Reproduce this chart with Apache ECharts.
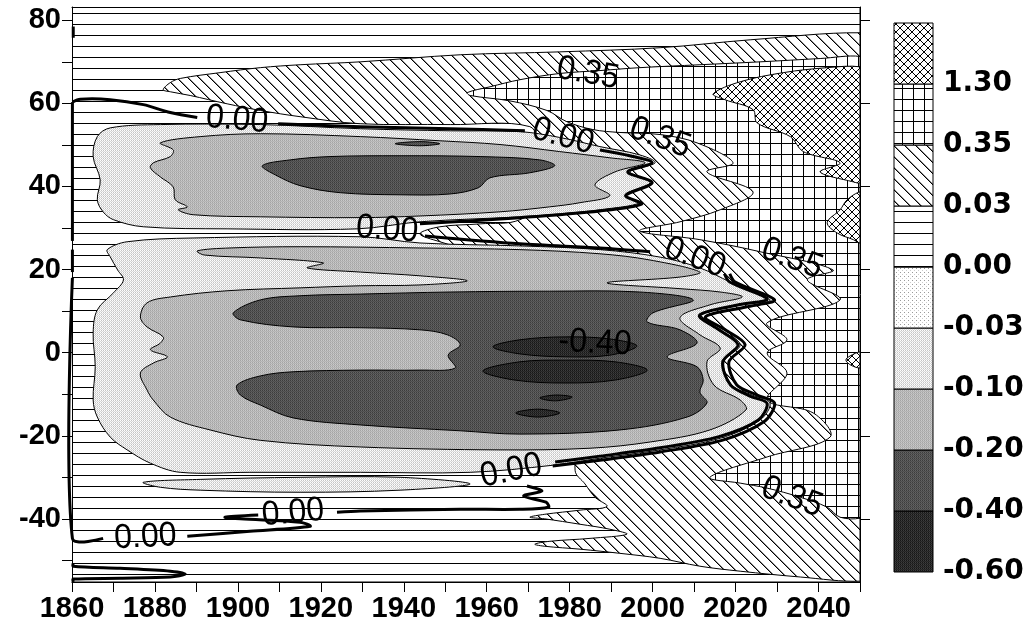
<!DOCTYPE html>
<html><head><meta charset="utf-8">
<script src="https://cdn.jsdelivr.net/npm/echarts@6/dist/echarts.min.js"></script>
<style>html,body{margin:0;padding:0;background:#fff}#c{width:1030px;height:627px}</style>
</head><body><div id="c"></div>
<script>
// ---------------- axis values ----------------
const xRange = [1860, 2050];
const yRange = [-55.2, 83.2];
const xLabelValues = [1860,1880,1900,1920,1940,1960,1980,2000,2020,2040];
const yTickValues = [-50,-40,-30,-20,-10,0,10,20,30,40,50,60,70,80];
const yLabelValues = [-40,-20,0,20,40,60,80];
const yRightTickValues = [-40,-20,0,20,40,60,80];
const legendLevels = ['-0.60','-0.40','-0.20','-0.10','-0.03','0.00','0.03','0.35','1.30'];
const legendFills = ['darkest','dark','medium','light','sparse','hlines','diag','grid','cross'];

// ---------------- contour regions [year, latitude] ----------------
const domain = [[1860,-55.2],[2050,-55.2],[2050,83.2],[1860,83.2]];
const diagMain = [[1882.0,63.3],[1883.7,65.0],[1886.1,66.0],[1895.7,67.4],[1905.4,68.6],[1915.0,69.3],[1929.5,70.0],[1953.6,71.7],[1977.6,72.4],[2001.8,73.4],[2023.5,75.3],[2050,77.0],[2050,75.0],
 [2050,-53.0],[2050,-55.0],[2035.6,-54.0],[2021.1,-52.6],[2011.4,-51.4],[2001.8,-49.5],[1992.1,-48.3],[1982.5,-47.3],[1974.0,-46.6],[1971.6,-46.1],[1975.2,-45.4],[1984.9,-44.7],[1993.8,-43.7],[1989.7,-42.5],[1982.5,-41.3],[1974.0,-40.0],[1970.4,-39.6],[1974.0,-38.9],[1982.5,-37.9],[1989.0,-37.0],[1986.1,-34.8],[1983.7,-31.6],[1981.3,-28.3],
 [1981.3,12.7],[1963.2,22.3],[1948.7,26.7],[1943.9,28.6],[1948.7,30.3],[1958.4,31.0],[1968.0,32.0],[1977.6,39.2],[1972.8,48.8],[1970.4,54.4],
 [1951.2,54.9],[1929.5,55.1],[1915.0,56.8],[1905.4,58.3],[1897.4,59.9],[1888.5,61.9],[1883.7,62.8]];
const gridMain = [[1955.3,62.6],[1960.8,64.0],[1968.0,65.7],[1977.6,67.2],[1987.3,67.9],[1996.9,68.6],[2011.4,69.3],[2025.9,70.0],[2040.4,70.8],[2050,71.3],[2050,69.5],
 [2050,-38.3],[2050,-39.8],[2045.2,-39.6],[2042.1,-37.2],[2035.6,-34.8],[2027.6,-32.6],[2021.1,-31.4],[2013.8,-30.0],[2027.6,-25.1],[2042.8,-20.3],[2038.7,-14.5],[2027.6,-11.4],[2032.4,-4.9],[2027.6,-0.1],[2032.4,3.1],[2027.6,7.2],[2045.2,12.7],[2037.3,17.5],[2043.5,19.9],[2025.9,24.3],[2011.4,27.2],[1996.9,29.3],[2006.6,31.5],[2016.3,34.4],[2024.2,38.7],[2013.1,43.5],[2019.4,45.7],[2010.7,50.5],[2001.8,52.5],[1992.1,53.0],[1985.6,53.7],[1979.3,55.6],[1974.5,58.3],[1965.6,60.6],[1956.0,61.9]];
const crossA = [[2014.6,62.3],[2021.1,65.2],[2031.5,67.4],[2042.1,68.6],[2050,68.8],[2050,67.3],[2050,42.4],[2050,40.9],[2048.4,41.1],[2040.4,43.5],[2045.2,45.7],[2036.3,48.4],[2033.2,52.0],[2025.2,55.3],[2024.2,58.5],[2017.4,60.9]];
const crossB = [[2050,38.7],[2046.9,36.8],[2045.2,34.4],[2042.1,31.3],[2044.5,28.8],[2048.4,27.2],[2050,26.4],[2050,27.8],[2050,37.3]];
const crossC = [[2050,0.2],[2047.6,-0.8],[2046.6,-1.8],[2047.8,-3.0],[2050,-3.7],[2050,-3.0],[2050,-0.5]];
const lightNorth = [[1869.2,54.1],[1881.3,54.9],[1905.4,54.9],[1929.5,53.9],[1951.2,53.4],[1968.0,53.2],[1977.6,51.8],[1987.3,49.6],[1996.9,47.6],[2000.6,45.7],[1994.5,43.5],[1999.4,40.9],[1993.3,38.0],[1996.9,36.1],[1987.3,34.4],[1977.6,33.4],[1968.0,32.7],[1943.9,31.5],[1928.8,29.8],[1897.4,29.8],[1877.2,30.3],[1870.0,32.0],[1867.5,33.9],[1866.1,36.8],[1866.8,41.6],[1865.1,47.2],[1866.1,52.0]];
const medNorth = [[1881.3,50.5],[1890.9,52.0],[1905.4,52.7],[1929.5,52.0],[1948.7,51.0],[1963.2,50.1],[1977.6,48.4],[1989.7,46.9],[1998.2,45.7],[1990.9,43.5],[1986.1,40.4],[1989.7,37.8],[1982.5,36.1],[1975.2,35.1],[1963.2,33.9],[1943.9,32.9],[1929.5,32.5],[1905.4,32.7],[1889.2,33.2],[1885.6,34.4],[1887.8,35.1],[1884.9,36.8],[1884.4,39.9],[1881.3,42.3],[1878.9,44.5],[1879.6,45.7],[1883.7,47.2],[1884.4,48.8]];
const darkNorth = [[1905.9,45.0],[1912.6,46.4],[1922.2,47.2],[1939.1,47.4],[1958.4,47.2],[1972.8,46.4],[1976.4,45.0],[1970.4,43.3],[1960.8,42.1],[1958.0,39.7],[1951.2,38.2],[1939.1,38.0],[1924.7,38.5],[1915.0,40.2],[1909.0,42.8]];
const darkNorthSliver = [[1937.9,50.3],[1943.9,50.8],[1948.7,50.3],[1943.9,49.8]];
const lightSouth = [[1868.5,24.8],[1873.3,26.7],[1889.2,27.6],[1929.5,27.9],[1943.9,26.4],[1968.0,25.7],[1987.3,24.8],[2001.8,23.0],[2011.4,20.4],[2018.7,17.0],[2028.3,12.7],[2021.1,11.5],[2011.4,9.1],[2016.3,5.5],[2021.1,1.9],[2017.2,-2.2],[2019.1,-7.8],[2024.0,-10.2],[2028.3,-12.1],[2025.9,-16.2],[2016.3,-20.6],[2001.8,-23.4],[1987.3,-25.4],[1975.9,-27.1],[1956.0,-28.8],[1929.5,-28.8],[1902.9,-28.8],[1886.1,-28.8],[1878.9,-26.6],[1873.3,-23.4],[1869.2,-20.3],[1866.1,-15.5],[1865.1,-11.4],[1865.6,-3.4],[1865.1,4.8],[1866.1,10.3],[1870.0,14.4],[1872.4,17.5],[1871.0,19.9],[1869.2,23.1]];
const lightSouthTongue = [[1877.2,-31.2],[1890.9,-30.5],[1915.0,-30.0],[1939.1,-30.0],[1956.0,-31.6],[1939.1,-33.1],[1915.0,-33.6],[1890.9,-33.1],[1881.3,-32.4]];
const medSouth = [[1890.2,24.5],[1898.1,25.2],[1915.0,25.5],[1943.9,25.2],[1968.0,24.8],[1987.3,23.8],[1999.4,22.3],[2011.4,19.4],[2006.6,18.2],[1989.0,16.8],[2006.6,15.4],[2016.3,14.6],[2021.6,13.4],[2013.8,11.5],[2006.6,8.4],[2011.4,4.3],[2016.3,1.1],[2013.1,-2.2],[2014.8,-7.8],[2021.1,-11.4],[2022.5,-13.8],[2013.8,-18.6],[1999.4,-21.5],[1984.9,-23.0],[1963.2,-23.4],[1929.5,-22.7],[1905.4,-21.1],[1893.3,-18.6],[1883.7,-15.5],[1879.6,-11.4],[1878.1,-9.0],[1876.5,-4.9],[1879.6,-2.5],[1883.0,-1.0],[1878.9,0.7],[1881.3,2.3],[1882.0,3.8],[1878.1,6.2],[1876.5,8.6],[1878.1,12.0],[1883.7,13.4],[1897.4,14.9],[1915.0,15.6],[1929.5,16.1],[1943.9,16.3],[1955.3,17.3],[1943.9,18.5],[1929.5,19.4],[1916.7,20.4],[1920.6,21.6],[1905.4,22.8],[1891.9,23.5]];
const darkSouth = [[1898.9,9.6],[1905.4,12.7],[1915.0,13.7],[1929.5,14.1],[1951.2,14.6],[1975.2,14.8],[1996.9,14.6],[2009.8,12.7],[2000.1,9.6],[1998.7,7.4],[2006.6,5.5],[2010.7,2.3],[2003.5,-1.0],[2010.7,-3.4],[2012.2,-6.6],[2011.4,-9.5],[2013.1,-12.1],[2008.3,-15.5],[1992.1,-18.6],[1968.0,-19.6],[1953.6,-18.8],[1929.5,-17.4],[1913.3,-15.7],[1905.4,-12.6],[1900.6,-10.2],[1899.8,-7.8],[1905.4,-5.6],[1913.3,-4.6],[1929.5,-4.2],[1943.9,-4.2],[1952.4,-3.7],[1950.7,-0.6],[1953.6,1.9],[1950.5,4.3],[1943.9,5.5],[1929.5,6.0],[1913.3,6.2],[1900.6,7.9]];
const darkestA = [[1961.5,1.4],[1968.0,3.1],[1978.9,3.8],[1989.7,3.3],[1996.2,1.6],[1989.7,-0.6],[1978.9,-1.0],[1968.0,-0.3]];
const darkestB = [[1959.1,-4.4],[1968.0,-2.2],[1978.9,-1.8],[1990.9,-2.2],[1998.7,-4.2],[1990.9,-6.6],[1978.9,-7.3],[1966.8,-6.6]];
const darkestC = [[1972.8,-10.9],[1976.6,-10.2],[1980.6,-10.7],[1976.6,-11.6]];
const darkestD = [[1967.0,-14.5],[1972.3,-13.6],[1977.6,-14.5],[1972.3,-15.5]];

// ---------------- zero contour lines ----------------
const zeroLeftA = [[1860.1,60.3],[1860.1,26.9]];
const zeroLeftB = [[1860.1,24.8],[1860.1,19.4]];
const zeroLeftC = [[1860.1,18.0],[1860.1,-44.7],[1867.5,-44.7]];
const zeroTopLeft = [[1860.1,60.3],[1862.0,61.0],[1869.2,60.9],[1877.2,59.7],[1883.7,57.8],[1890.2,56.6]];
const zeroNorthA = [[1909.7,55.1],[1929.5,54.4],[1951.2,53.9],[1969.2,53.4]];
const zeroNorthB = [[1987.3,48.8],[1994.5,47.4],[1999.9,45.7],[1994.0,43.5],[1999.9,40.9],[1993.5,37.8],[1997.4,35.8],[1987.3,34.1],[1968.0,32.5],[1943.9,31.0]];
const zeroWedge = [[1945.1,28.1],[1968.0,26.2],[1987.3,25.2],[1999.4,24.3]];
const zeroSouthEast = [[2018.6,19.0],[2019.9,17.0],[2029.4,12.7],[2022.5,11.0],[2012.7,8.6],[2017.5,5.5],[2022.3,1.9],[2018.4,-2.2],[2020.3,-7.8],[2025.2,-10.2],[2029.4,-12.1],[2027.0,-16.5],[2016.7,-21.1],[2001.8,-23.9],[1987.3,-25.9],[1975.9,-27.3]];
const zeroSouthEastInner = [[2017.3,19.0],[2018.6,17.0],[2027.6,12.9],[2021.0,11.6],[2011.3,9.0],[2016.0,5.5],[2020.6,1.9],[2016.9,-2.2],[2018.8,-7.8],[2023.6,-10.5],[2027.6,-12.2],[2025.5,-16.2],[2016.0,-20.2],[2001.8,-22.9],[1987.3,-24.9],[1976.5,-26.3]];
const zeroSouthA = [[1969.7,-32.1],[1973.3,-33.3],[1968.9,-34.5],[1974.3,-36.0],[1974.9,-37.2],[1968.0,-37.7],[1953.6,-37.7],[1929.5,-38.1],[1923.9,-38.4]];
const zeroSouthB = [[1887.8,-44.2],[1902.9,-43.0],[1917.4,-41.8],[1915.0,-40.8],[1900.6,-40.0],[1896.9,-39.6],[1904.9,-39.1]];
const zeroHairpin = [[1860.3,-50.7],[1860.3,-51.4],[1871.6,-51.9],[1883.7,-52.6],[1887.3,-53.3],[1883.7,-54.0],[1871.6,-54.3],[1860.3,-54.5],[1860.3,-55.2]];
const zeroTick = [[1860.3,78.5],[1860.3,75.8]];

// ---------------- contour labels ----------------
const labelTexts = ['0.00','0.35','0.00','0.35','0.00','0.00','0.35','-0.40','0.00','0.00','0.00','0.35'];
const labelCoords = [[1899.8,56.0],[1984.4,67.2],[1978.4,52.0],[2001.8,51.7],[1936.0,29.6],[2010.2,22.8],[2033.6,22.6],[1986.1,2.3],[1965.9,-28.5],[1913.3,-38.6],[1877.7,-44.4],[2033.6,-34.8]];
const labelAngles = [-5,-10,-15,-20,-4,-20,-20,-3,12,5,3,-20];

// ---------------- fill patterns ----------------
function makePattern(w, h, draw) {
  const c = document.createElement('canvas'); c.width = w; c.height = h;
  const g = c.getContext('2d'); draw(g, w, h);
  return {image: c, repeat: 'repeat'};
}
function px(g, x, y, col) { g.fillStyle = col; g.fillRect(x, y, 1, 1); }
const P = {
  hlines: makePattern(4, 11, (g,w,h) => { g.fillStyle='#fff'; g.fillRect(0,0,w,h); g.fillStyle='#000'; g.fillRect(0,2,w,1); }),
  diag: makePattern(11, 11, (g,w,h) => { g.fillStyle='#fff'; g.fillRect(0,0,w,h); for (let i=0;i<w;i++){ px(g,i,i,'#000'); px(g,(i+1)%w,i,'#888'); } }),
  grid: makePattern(11, 11, (g,w,h) => { g.fillStyle='#fff'; g.fillRect(0,0,w,h); g.fillStyle='#000'; g.fillRect(0,0,w,1); g.fillRect(0,0,1,h); }),
  cross: makePattern(8, 8, (g,w,h) => { g.fillStyle='#fff'; g.fillRect(0,0,w,h); for (let i=0;i<w;i++){ px(g,i,i,'#000'); px(g,w-1-i,i,'#000'); } }),
  sparse: makePattern(4, 4, (g,w,h) => { g.fillStyle='#fff'; g.fillRect(0,0,w,h); px(g,0,0,'#999'); px(g,2,2,'#ccc'); }),
  light: makePattern(2, 2, (g) => { px(g,0,0,'#ffffff'); px(g,1,0,'#c4c4c4'); px(g,0,1,'#d8d8d8'); px(g,1,1,'#f2f2f2'); }),
  medium: makePattern(2, 2, (g) => { px(g,0,0,'#a4a4a4'); px(g,1,0,'#cacaca'); px(g,0,1,'#bcbcbc'); px(g,1,1,'#b2b2b2'); }),
  dark: makePattern(2, 2, (g) => { px(g,0,0,'#3c3c3c'); px(g,1,0,'#646464'); px(g,0,1,'#585858'); px(g,1,1,'#4c4c4c'); }),
  darkest: makePattern(2, 2, (g) => { px(g,0,0,'#161616'); px(g,1,0,'#3e3e3e'); px(g,0,1,'#2e2e2e'); px(g,1,1,'#242424'); })
};

const regions = [
  {pts: domain, fill: 'hlines', smooth: 0},
  {pts: diagMain, fill: 'diag'},
  {pts: gridMain, fill: 'grid'},
  {pts: crossA, fill: 'cross'},
  {pts: crossB, fill: 'cross'},
  {pts: crossC, fill: 'cross'},
  {pts: lightNorth, fill: 'light'},
  {pts: lightSouth, fill: 'light'},
  {pts: lightSouthTongue, fill: 'light'},
  {pts: medNorth, fill: 'medium'},
  {pts: medSouth, fill: 'medium'},
  {pts: darkNorth, fill: 'dark'},
  {pts: darkNorthSliver, fill: 'dark'},
  {pts: darkSouth, fill: 'dark'},
  {pts: darkestA, fill: 'darkest'},
  {pts: darkestB, fill: 'darkest'},
  {pts: darkestC, fill: 'darkest'},
  {pts: darkestD, fill: 'darkest'}
];
const zeroLines = [zeroLeftA, zeroLeftB, zeroLeftC, zeroTopLeft, zeroNorthA, zeroNorthB, zeroWedge, zeroSouthEast, zeroSouthEastInner, zeroSouthA, zeroSouthB, zeroHairpin, zeroTick];

const chart = echarts.init(document.getElementById('c'), null, {renderer: 'canvas'});
const axisFont = {color:'#000', fontSize:29, fontWeight:'bold', fontFamily:'Liberation Sans'};

function constraint(api) {
  const a = api.coord([xRange[0], yRange[1]]), b = api.coord([xRange[1], yRange[0]]);
  return [[a[0], a[1]], [b[0], b[1]]];
}

chart.setOption({
  animation: false,
  backgroundColor: '#fff',
  grid: [
    {left: 72, right: 170, top: 7, bottom: 45, show: false},
    {left: 894, top: 23, width: 39, height: 549, show: false}
  ],
  xAxis: [
    {gridIndex:0, type:'value', min:xRange[0], max:xRange[1], interval:10, position:'bottom', z:10,
     axisLine:{show:true, onZero:false, lineStyle:{color:'#000', width:1}},
     axisTick:{show:true, inside:false, length:10, lineStyle:{color:'#000', width:1}},
     axisLabel:Object.assign({show:true, margin:12, formatter: v => xLabelValues.indexOf(v) >= 0 ? String(v) : ''}, axisFont),
     splitLine:{show:false}},
    {gridIndex:0, type:'value', min:xRange[0], max:xRange[1], position:'top', z:10,
     axisLine:{show:true, onZero:false, lineStyle:{color:'#000', width:1}}, axisTick:{show:false}, axisLabel:{show:false}, splitLine:{show:false}},
    {gridIndex:1, type:'value', min:0, max:1, show:false}
  ],
  yAxis: [
    {gridIndex:0, type:'value', min:yRange[0], max:yRange[1], position:'left', z:10,
     axisLine:{show:true, onZero:false, lineStyle:{color:'#000', width:1}},
     axisTick:{show:true, inside:false, length:10, customValues:yTickValues, lineStyle:{color:'#000', width:1}},
     axisLabel:Object.assign({show:true, margin:11, customValues:yLabelValues, formatter: v => String(v)}, axisFont),
     splitLine:{show:false}},
    {gridIndex:0, type:'value', min:yRange[0], max:yRange[1], position:'right', z:10,
     axisLine:{show:true, onZero:false, lineStyle:{color:'#000', width:1}},
     axisTick:{show:true, inside:false, length:10, customValues:yRightTickValues, lineStyle:{color:'#000', width:1}},
     axisLabel:{show:false}, splitLine:{show:false}},
    {gridIndex:1, type:'value', min:0, max:9, position:'right',
     axisLine:{show:false}, axisTick:{show:false}, splitLine:{show:false},
     axisLabel:{show:true, margin:10, customValues:[0,1,2,3,4,5,6,7,8], formatter: v => legendLevels[v] || '',
       color:'#000', fontSize:28, fontWeight:'bold', fontFamily:'DejaVu Sans'}}
  ],
  series: [
    {type:'custom', xAxisIndex:0, yAxisIndex:0, clip:true, z:2, silent:true,
     data: regions.map((r, i) => [i]),
     renderItem: (params, api) => {
       const r = regions[params.dataIndex];
       return {type:'polygon',
         shape:{points: r.pts.map(p => api.coord(p)), smooth: r.smooth === 0 ? 0 : 0.35, smoothConstraint: constraint(api)},
         style:{fill: P[r.fill], stroke:'#000', lineWidth:1}};
     }},
    {type:'custom', xAxisIndex:0, yAxisIndex:0, clip:false, z:3, silent:true,
     data: zeroLines.map((l, i) => [i]),
     renderItem: (params, api) => ({type:'polyline',
       shape:{points: zeroLines[params.dataIndex].map(p => api.coord(p)), smooth: 0.3},
       style:{fill:null, stroke:'#000', lineWidth:3}})},
    {type:'custom', xAxisIndex:0, yAxisIndex:0, clip:false, z:4, silent:true,
     data: labelTexts.map((t, i) => [i]),
     renderItem: (params, api) => {
       const i = params.dataIndex, p = api.coord(labelCoords[i]);
       return {type:'text', x:p[0], y:p[1], rotation: labelAngles[i] * Math.PI / 180, scaleY: 1.08,
         style:{text: labelTexts[i], fill:'#000', fontSize:32, fontFamily:'Liberation Sans', align:'center', verticalAlign:'middle'}};
     }},
    {type:'custom', xAxisIndex:2, yAxisIndex:2, clip:false, z:2, silent:true,
     data: legendFills.map((f, i) => [i]),
     renderItem: (params, api) => {
       const i = params.dataIndex, a = api.coord([0, i + 1]), b = api.coord([1, i]);
       return {type:'rect', shape:{x:a[0], y:a[1], width:b[0]-a[0], height:b[1]-a[1]},
         style:{fill: P[legendFills[i]], stroke:'#000', lineWidth:1}};
     }}
  ]
});
</script></body></html>
